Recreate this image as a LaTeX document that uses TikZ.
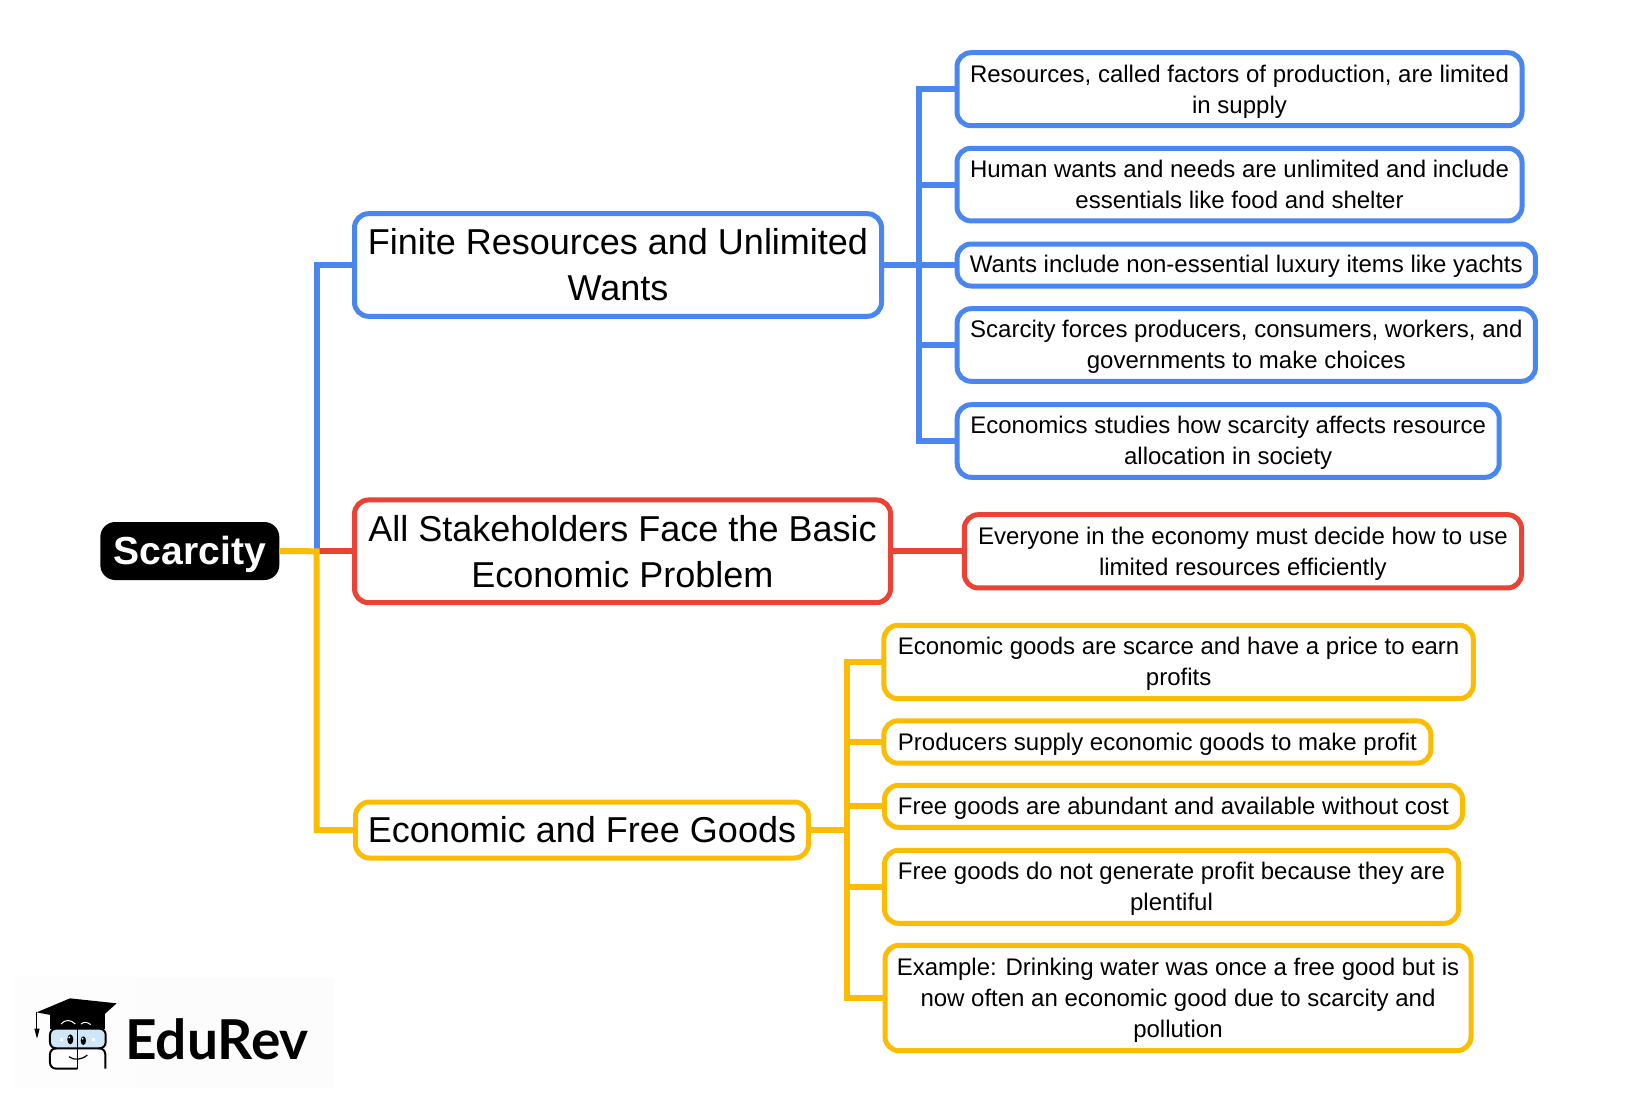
\documentclass[tikz,border=0pt]{standalone}
\usepackage{fontspec}
\setmainfont{Liberation Sans}
\newfontfamily\logofont{Lato}
\definecolor{mapblue}{HTML}{4A86F0}
\definecolor{mapred}{HTML}{EA4335}
\definecolor{mapyellow}{HTML}{FBBC04}
\definecolor{glasses}{HTML}{CFE6F6}
\newcommand{\lift}{\rule{0pt}{22pt}}
\tikzset{
    mapbox/.style={draw, line width=5pt, rounded corners=14pt, inner sep=0pt, outer sep=0pt, align=center, fill=white, text=black},
    topic/.style={mapbox, font=\fontsize{36}{46}\selectfont},
    leaf/.style={mapbox, font=\fontsize{24}{31}\selectfont},
    link/.style={line width=6pt, line join=miter},
}
\begin{document}
\begin{tikzpicture}[x=1pt,y=-1pt]
    \useasboundingbox (0,0) rectangle (1639,1103);

    % Logo background
    \fill[black!0.8] (14,977) rectangle (136,1088);
    \fill[black!1.2] (136,977) rectangle (334,1088);

    % Root
    \node[fill=black, text=white, rounded corners=15pt, inner sep=0pt, outer sep=0pt, minimum width=179pt, minimum height=58pt, font=\fontsize{39.1}{46}\selectfont\bfseries] (root) at (189.8,551) {\rule{0pt}{36pt}Scarcity};

    % Topics
    \node[topic, draw=mapblue, minimum width=527pt, minimum height=102.6pt] (finite) at (618,265) {Finite Resources and Unlimited\\Wants};
    \node[topic, draw=mapred, minimum width=536pt, minimum height=102.7pt] (stake) at (622.5,551.3) {\rule[-1pt]{0pt}{1pt}All Stakeholders Face the Basic\\Economic Problem};
    \node[topic, draw=mapyellow, minimum width=453pt, minimum height=56pt] (goods) at (582,830) {Economic and Free Goods};

    % Blue leaves
    \node[leaf, draw=mapblue, minimum width=565pt, minimum height=73pt] (bone) at (1239.5,89.2) {\lift Resources, called factors of production, are limited\\in supply};
    \node[leaf, draw=mapblue, minimum width=565pt, minimum height=72.6pt] (btwo) at (1239.5,184.6) {Human wants and needs are unlimited and include\\essentials like food and shelter};
    \node[leaf, draw=mapblue, minimum width=578.3pt, minimum height=42pt] (bthree) at (1246.3,265) {\rule{0pt}{20pt}Wants include non-essential luxury items like yachts};
    \node[leaf, draw=mapblue, minimum width=578.3pt, minimum height=72.6pt] (bfour) at (1246.3,345) {\rule{0pt}{21pt}Scarcity forces producers, consumers, workers, and\\governments to make choices};
    \node[leaf, draw=mapblue, minimum width=542pt, minimum height=72.6pt] (bfive) at (1228.2,441) {\rule{0pt}{21pt}Economics studies how scarcity affects resource\\allocation in society};

    % Red leaf
    \node[leaf, draw=mapred, minimum width=557.2pt, minimum height=73.3pt] (rone) at (1242.9,551.3) {\lift Everyone in the economy must decide how to use\\limited resources efficiently};

    % Yellow leaves
    \node[leaf, draw=mapyellow, minimum width=589.4pt, minimum height=73.4pt] (yone) at (1178.6,662) {\rule{0pt}{21pt}Economic goods are scarce and have a price to earn\\profits};
    \node[leaf, draw=mapyellow, minimum width=547pt, minimum height=42.3pt] (ytwo) at (1157.4,742) {\lift Producers supply economic goods to make profit};
    \node[leaf, draw=mapyellow, minimum width=578pt, minimum height=42pt] (ythree) at (1173.5,806.3) {\lift Free goods are abundant and available without cost};
    \node[leaf, draw=mapyellow, minimum width=574pt, minimum height=73pt] (yfour) at (1171.5,886.8) {\lift Free goods do not generate profit because they are\\plentiful};
    \node[leaf, draw=mapyellow, minimum width=586pt, minimum height=105.4pt] (yfive) at (1178,998) {\lift Example: Drinking water was once a free good but is\\now often an economic good due to scarcity and\\pollution};

    % Forks
    \coordinate (rootfork) at (316.7,551.3);
    \coordinate (bluefork) at (919,265);
    \coordinate (yellowfork) at (847,830);

    % Links
    \draw[link, mapblue] (rootfork) |- (finite.west);
    \draw[link, mapred] (rootfork) -- (stake.west);
    \draw[link, mapyellow] (root.east) -- (rootfork) |- (goods.west);
    \draw[link, mapblue] (finite.east) -- (bthree.west);
    \foreach \leafname in {bone,btwo,bfour,bfive}
        \draw[link, mapblue] (bluefork) |- (\leafname.west);
    \draw[link, mapred] (stake.east) -- (rone.west);
    \draw[link, mapyellow] (goods.east) -- (yellowfork);
    \foreach \leafname in {yone,ytwo,ythree,yfour,yfive}
        \draw[link, mapyellow] (yellowfork) |- (\leafname.west);

    % Logo
    \node[inner sep=0pt, anchor=base west, font=\fontsize{55}{60}\selectfont\logofont\bfseries] (logo) at (125,1059) {EduRev};
    \begin{scope}[shift={(0,960)}, x=0.3333pt, y=-0.3333pt]
        % band under the cap
        \fill (150,160) -- (150,208) -- (315,208) -- (315,160) -- cycle;
        % head
        \draw[line width=2pt, rounded corners=6pt, fill=glasses] (150,206) rectangle (317,265);
        \draw[line width=2pt, rounded corners=6pt] (232,326) -- (150,326) -- (150,265) -- (170,265);
        \draw[line width=2pt, rounded corners=6pt] (316,326) -- (316,265) -- (296,265);
        \draw[line width=1.6pt] (232,195) -- (232,328);
        % eyes
        \fill (211,238) ellipse (9 and 15);
        \fill (250,242) ellipse (8 and 13);
        \fill[white] (208,232) circle (3);
        \fill[white] (248,236) circle (3);
        \fill[white] (181,233) rectangle (190,242);
        \fill[white] (276,233) rectangle (286,242);
        % brows and smile
        \draw[white, line width=1pt] (183,192) .. controls (195,178) and (212,178) .. (226,192);
        \draw[white, line width=1pt] (243,192) .. controls (252,185) and (262,185) .. (272,194);
        \draw[line width=1.2pt] (207,290) .. controls (222,302) and (245,300) .. (262,285);
        % cap
        \fill (110,157) -- (210,115) -- (350,130) -- (283,190) -- cycle;
        \draw[line width=1.3pt] (110,157) -- (110,208);
        \fill (103,206) -- (119,206) -- (111,236) -- cycle;
    \end{scope}
\end{tikzpicture}
\end{document}
